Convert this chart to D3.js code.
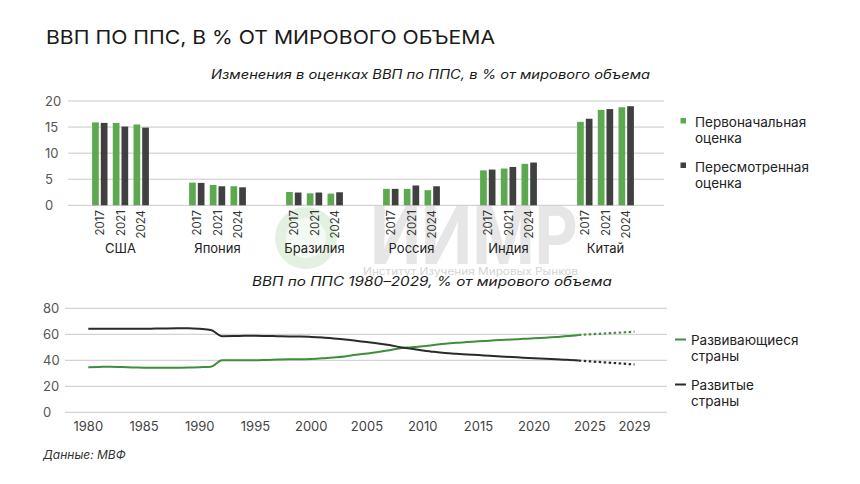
<!DOCTYPE html>
<html><head><meta charset="utf-8">
<script src="https://cdn.jsdelivr.net/npm/d3@7"></script>
<style>
body{margin:0;background:#fff;}
svg{display:block;font-family:Inter,"Noto Sans",sans-serif;}
</style></head>
<body><svg id="c" width="860" height="484"></svg>
<script>
// ---------- DATA ----------
const countries = ["США","Япония","Бразилия","Россия","Индия","Китай"];
const years = ["2017","2021","2024"];
const seriesNames = ["Первоначальная оценка","Пересмотренная оценка"];
// initial estimates per country, per year
const initialEst = [
  [15.9,15.8,15.5],
  [4.35,3.9,3.65],
  [2.55,2.3,2.25],
  [3.15,3.15,2.9],
  [6.7,7.05,7.95],
  [16.0,18.3,18.8]
];
const revisedEst = [
  [15.8,15.1,14.9],
  [4.3,3.65,3.45],
  [2.45,2.45,2.5],
  [3.15,3.8,3.65],
  [6.85,7.35,8.2],
  [16.6,18.45,19.0]
];
const barTicks = [0,5,10,15,20];

const lineYears = d3.range(1980,2030);
const developing = [34.6,34.9,35.1,34.8,34.5,34.3,34.2,34.2,34.3,34.4,
  34.7,35.1,40.0,40.0,40.0,40.0,40.3,40.6,40.8,40.8,
  41.0,41.5,42.2,43.0,44.2,45.2,46.3,47.8,49.3,50.0,
  50.8,51.8,52.8,53.5,54.0,54.6,55.1,55.6,56.0,56.5,
  56.9,57.4,58.0,58.6,59.5,60.0,60.5,61.0,61.5,62.0];
const developed = [64.3,64.3,64.3,64.3,64.3,64.3,64.4,64.5,64.6,64.7,
  64.2,63.3,58.5,58.6,58.8,58.9,58.7,58.5,58.3,58.3,
  58.0,57.5,56.8,56.0,55.0,54.0,53.0,51.8,50.0,48.8,
  47.6,46.5,45.6,45.0,44.5,44.0,43.5,43.0,42.5,42.0,
  41.6,41.2,40.8,40.4,39.8,39.2,38.6,38.0,37.4,36.8];
const lastActual = 2024;
const lineTicks = [0,20,40,60,80];
const xTickYears = [1980,1985,1990,1995,2000,2005,2010,2015,2020,2025,2029];
const lineNames = ["Развивающиеся страны","Развитые страны"];

// ---------- STYLE ----------
const GREEN = "#5ca94f", DARK = "#404040";
const LGREEN = "#3d8f3b", LDARK = "#2a2a2a";
const svg = d3.select("#c");

// ---------- WATERMARK ----------
const wm = svg.append("g");
wm.append("circle").attr("cx",306).attr("cy",238).attr("r",31).attr("fill","#e3f1e1");
wm.append("circle").attr("cx",306).attr("cy",238).attr("r",20).attr("fill","#fff").attr("opacity",0.6);
wm.append("text").attr("x",370).attr("y",264).attr("font-size",80).attr("font-weight",700)
  .attr("fill","#e6e6e6").attr("font-family","Inter,sans-serif").attr("textLength",208).attr("lengthAdjust","spacingAndGlyphs").text("ИИМР");
wm.append("text").attr("x",363).attr("y",275).attr("font-size",10.5).attr("fill","#d4d4d4")
  .attr("textLength",215).attr("lengthAdjust","spacingAndGlyphs").text("Институт Изучения Мировых Рынков");

// ---------- TITLES ----------
svg.append("text").attr("x",46).attr("y",43.5).attr("font-size",19).attr("fill","#1a1a1a")
  .attr("textLength",449).attr("lengthAdjust","spacingAndGlyphs").text("ВВП ПО ППС, В % ОТ МИРОВОГО ОБЪЕМА");
svg.append("text").attr("x",211).attr("y",79).attr("font-size",12.5).attr("font-style","italic").attr("fill","#1a1a1a")
  .attr("textLength",439).attr("lengthAdjust","spacingAndGlyphs").text("Изменения в оценках ВВП по ППС, в % от мирового объема");
svg.append("text").attr("x",252).attr("y",285.5).attr("font-size",12.5).attr("font-style","italic").attr("fill","#1a1a1a")
  .attr("textLength",360).attr("lengthAdjust","spacingAndGlyphs").text("ВВП по ППС 1980–2029, % от мирового объема");
svg.append("text").attr("x",43).attr("y",459).attr("font-size",12).attr("font-style","italic").attr("fill","#333")
  .text("Данные: МВФ");

// ---------- BAR CHART ----------
const yB = d3.scaleLinear().domain([0,20]).range([205.3,101]);
const xG = d3.scaleBand().domain(countries).range([72,654]);
const xY = d3.scaleBand().domain(years).range([-31.05,31.05]);
const xS = d3.scaleBand().domain([0,1]).range([0,xY.bandwidth()]).paddingInner(0.23).paddingOuter(0.305);

const gB = svg.append("g");
gB.selectAll("line.grid").data(barTicks).join("line")
  .attr("x1",68).attr("x2",664).attr("y1",d=>yB(d)).attr("y2",d=>yB(d))
  .attr("stroke","#c8c8c8").attr("stroke-width",1);
gB.selectAll("text.yt").data(barTicks).join("text")
  .attr("x",45).attr("y",d=>yB(d)).attr("dy","0.35em").attr("font-size",13).attr("fill","#555")
  .text(d=>d);

countries.forEach((c,ci)=>{
  const gx = xG(c)+xG.bandwidth()/2;
  years.forEach((yr,yi)=>{
    const px = gx + xY(yr);
    const vals = [initialEst[ci][yi], revisedEst[ci][yi]];
    vals.forEach((v,si)=>{
      gB.append("rect").attr("x",px+xS(si)).attr("width",xS.bandwidth())
        .attr("y",yB(v)).attr("height",yB(0)-yB(v)).attr("fill",si===0?GREEN:DARK);
    });
    gB.append("text").attr("transform",`translate(${px+xY.bandwidth()/2},210) rotate(-90)`)
      .attr("text-anchor","end").attr("dy","0.36em").attr("font-size",11.5).attr("fill","#333").text(yr);
  });
  gB.append("text").attr("x",gx).attr("y",253).attr("text-anchor","middle").attr("font-size",13)
    .attr("fill","#222").text(c);
});

// bar legend
const legB = [
  {c:GREEN, l1:"Первоначальная", l2:"оценка", y:127},
  {c:DARK, l1:"Пересмотренная", l2:"оценка", y:171.5}
];
legB.forEach(d=>{
  svg.append("rect").attr("x",680.5).attr("y",d.y-9).attr("width",5.5).attr("height",5.5).attr("fill",d.c);
  svg.append("text").attr("x",695).attr("y",d.y).attr("font-size",13.5).attr("fill","#222").text(d.l1);
  svg.append("text").attr("x",695).attr("y",d.y+16).attr("font-size",13.5).attr("fill","#222").text(d.l2);
});

// ---------- LINE CHART ----------
const yL = d3.scaleLinear().domain([0,80]).range([412.3,308.3]);
const xL = d3.scaleLinear().domain([1980,2029]).range([88.3,634.5]);
const gL = svg.append("g");
gL.selectAll("line.grid").data(lineTicks).join("line")
  .attr("x1",65).attr("x2",667).attr("y1",d=>yL(d)).attr("y2",d=>yL(d))
  .attr("stroke","#c8c8c8").attr("stroke-width",1);
gL.selectAll("text.yt").data(lineTicks).join("text")
  .attr("x",43).attr("y",d=>yL(d)).attr("dy","0.35em").attr("font-size",13).attr("fill","#555")
  .text(d=>d);
gL.selectAll("text.xt").data(xTickYears).join("text")
  .attr("x",d=>xL(d)).attr("y",431).attr("text-anchor","middle").attr("font-size",13).attr("fill","#444")
  .text(d=>d);

const line = d3.line().x(d=>xL(d[0])).y(d=>yL(d[1])).curve(d3.curveMonotoneX);
[[developing,LGREEN],[developed,LDARK]].forEach(([arr,col])=>{
  const pts = lineYears.map((y,i)=>[y,arr[i]]);
  gL.append("path").attr("d",line(pts.filter(p=>p[0]<=lastActual)))
    .attr("fill","none").attr("stroke",col).attr("stroke-width",2);
  gL.append("path").attr("d",line(pts.filter(p=>p[0]>=lastActual)))
    .attr("fill","none").attr("stroke",col).attr("stroke-width",2.2).attr("stroke-dasharray","2.5,2.5");
});

// line legend
const legL = [
  {c:LGREEN, l1:"Развивающиеся", l2:"страны", y:344.5},
  {c:LDARK, l1:"Развитые", l2:"страны", y:389.5}
];
legL.forEach(d=>{
  svg.append("line").attr("x1",675).attr("x2",686).attr("y1",d.y-5).attr("y2",d.y-5)
    .attr("stroke",d.c).attr("stroke-width",2);
  svg.append("text").attr("x",691).attr("y",d.y).attr("font-size",13.5).attr("fill","#222").text(d.l1);
  svg.append("text").attr("x",691).attr("y",d.y+16).attr("font-size",13.5).attr("fill","#222").text(d.l2);
});
</script></body></html>
